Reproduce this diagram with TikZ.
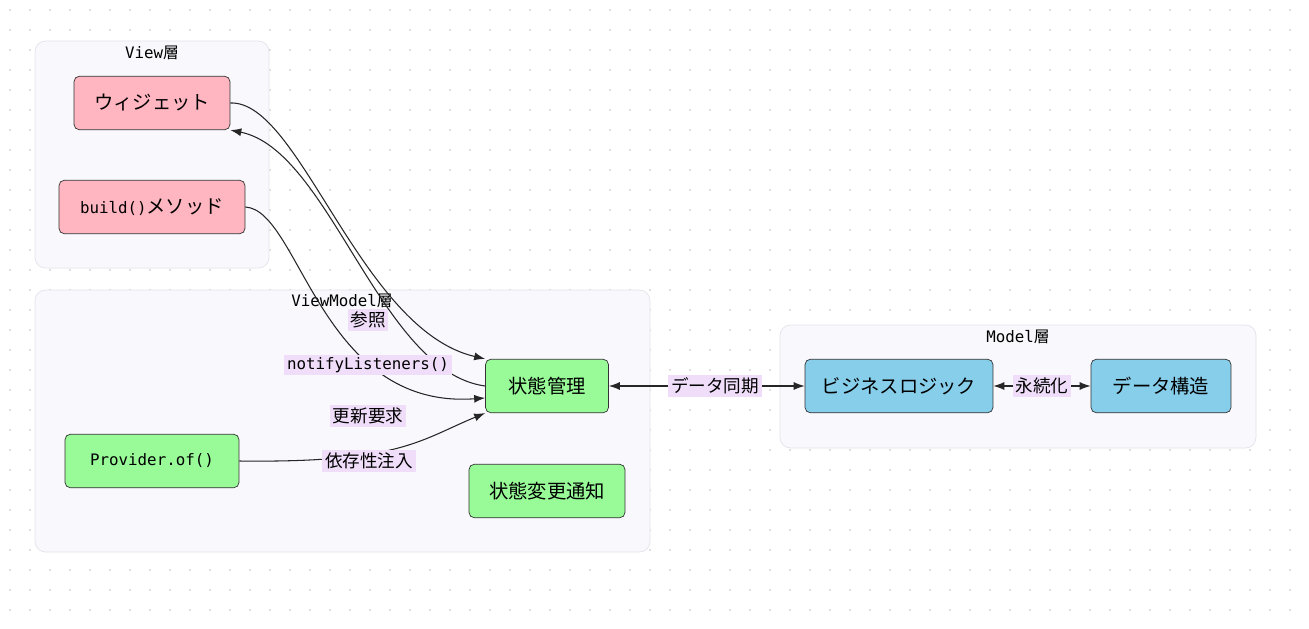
\documentclass[tikz,border=0pt]{standalone}
\usepackage{fontspec}
\setmainfont{Noto Sans CJK JP}
\setmonofont{DejaVu Sans Mono}
\usetikzlibrary{arrows.meta,positioning}
\definecolor{pinkfill}{HTML}{FFB6C1}
\definecolor{greenfill}{HTML}{98FB98}
\definecolor{bluefill}{HTML}{87CEEB}
\definecolor{clusterfill}{HTML}{F8F8FD}
\definecolor{clusterline}{HTML}{E2E2EA}
\definecolor{labelfill}{HTML}{EFDDF9}
\definecolor{dotcol}{HTML}{D6D6D6}
\begin{document}
\begin{tikzpicture}[
  x=0.02cm, y=-0.02cm,
  > = {Latex[length=2.2mm,width=1.6mm]},
  box/.style = {draw=black!80, rounded corners=3pt, minimum height=1.07cm, font=\fontsize{11}{13}\selectfont},
  cluster/.style = {draw=clusterline, fill=clusterfill, rounded corners=6pt},
  title/.style = {font=\ttfamily\fontsize{9}{11}\selectfont},
  elabel/.style = {fill=labelfill, inner sep=1.5pt, font=\fontsize{10}{12}\selectfont},
  edge/.style = {->, draw=black!85, line width=0.6pt}
  ]
	\useasboundingbox (0,0) rectangle (1309,629);
	% background dots
	\foreach \i in {0,...,65} {
		\foreach \j in {0,...,31} {
			\fill[dotcol] (\i*20+10,\j*20+10) circle (0.7pt);
		}
	}

	% layers
	\draw[cluster] (35,41) rectangle (269,268);
	\draw[cluster] (35,290) rectangle (650,552);
	\draw[cluster] (780,325) rectangle (1256,448);
	\node[title] at (152,53) {View{\rmfamily 層}};
	\node[title] at (342,301) {ViewModel{\rmfamily 層}};
	\node[title] at (1018,337) {Model{\rmfamily 層}};

	% nodes
	\node[box, fill=pinkfill, minimum width=3.12cm] (widget) at (152,103) {ウィジェット};
	\node[box, fill=pinkfill, minimum width=3.72cm] (build) at (152,207) {{\ttfamily\fontsize{9}{11}\selectfont build()}メソッド};
	\node[box, fill=greenfill, minimum width=2.46cm] (state) at (547,386) {状態管理};
	\node[box, fill=greenfill, minimum width=3.48cm] (provider) at (152,461) {\ttfamily\fontsize{9}{11}\selectfont Provider.of()};
	\node[box, fill=greenfill, minimum width=3.12cm] (notify) at (547,491) {状態変更通知};
	\node[box, fill=bluefill, minimum width=3.76cm] (logic) at (899,386) {ビジネスロジック};
	\node[box, fill=bluefill, minimum width=2.80cm] (data) at (1161,386) {データ構造};

	% connectors
	\draw[edge] (widget.east) .. controls (300,100) and (360,330) .. (state.north west);
	\draw[edge] (state.west) .. controls (380,372) and (330,150) .. (widget.south east);
	\draw[edge] (build.east) .. controls (300,210) and (320,410) .. ([yshift=-0.24cm]state.west);
	\draw[edge] (provider.east) .. controls (400,463) and (420,440) .. (state.south west);
	\draw[edge, <->] (state.east) -- (logic.west);
	\draw[edge, <->] (logic.east) -- (data.west);

	% connector labels
	\node[elabel] (lref) at (368,320) {参照};
	\node[elabel, font=\ttfamily\fontsize{9}{11}\selectfont] (lnotify) at (368,365) {notifyListeners()};
	\node[elabel] (lupdate) at (368,416) {更新要求};
	\node[elabel] (linject) at (369,461) {依存性注入};
	\node[elabel] (lsync) at (715,386) {データ同期};
	\node[elabel] (lpersist) at (1042,386) {永続化};
\end{tikzpicture}
\end{document}
